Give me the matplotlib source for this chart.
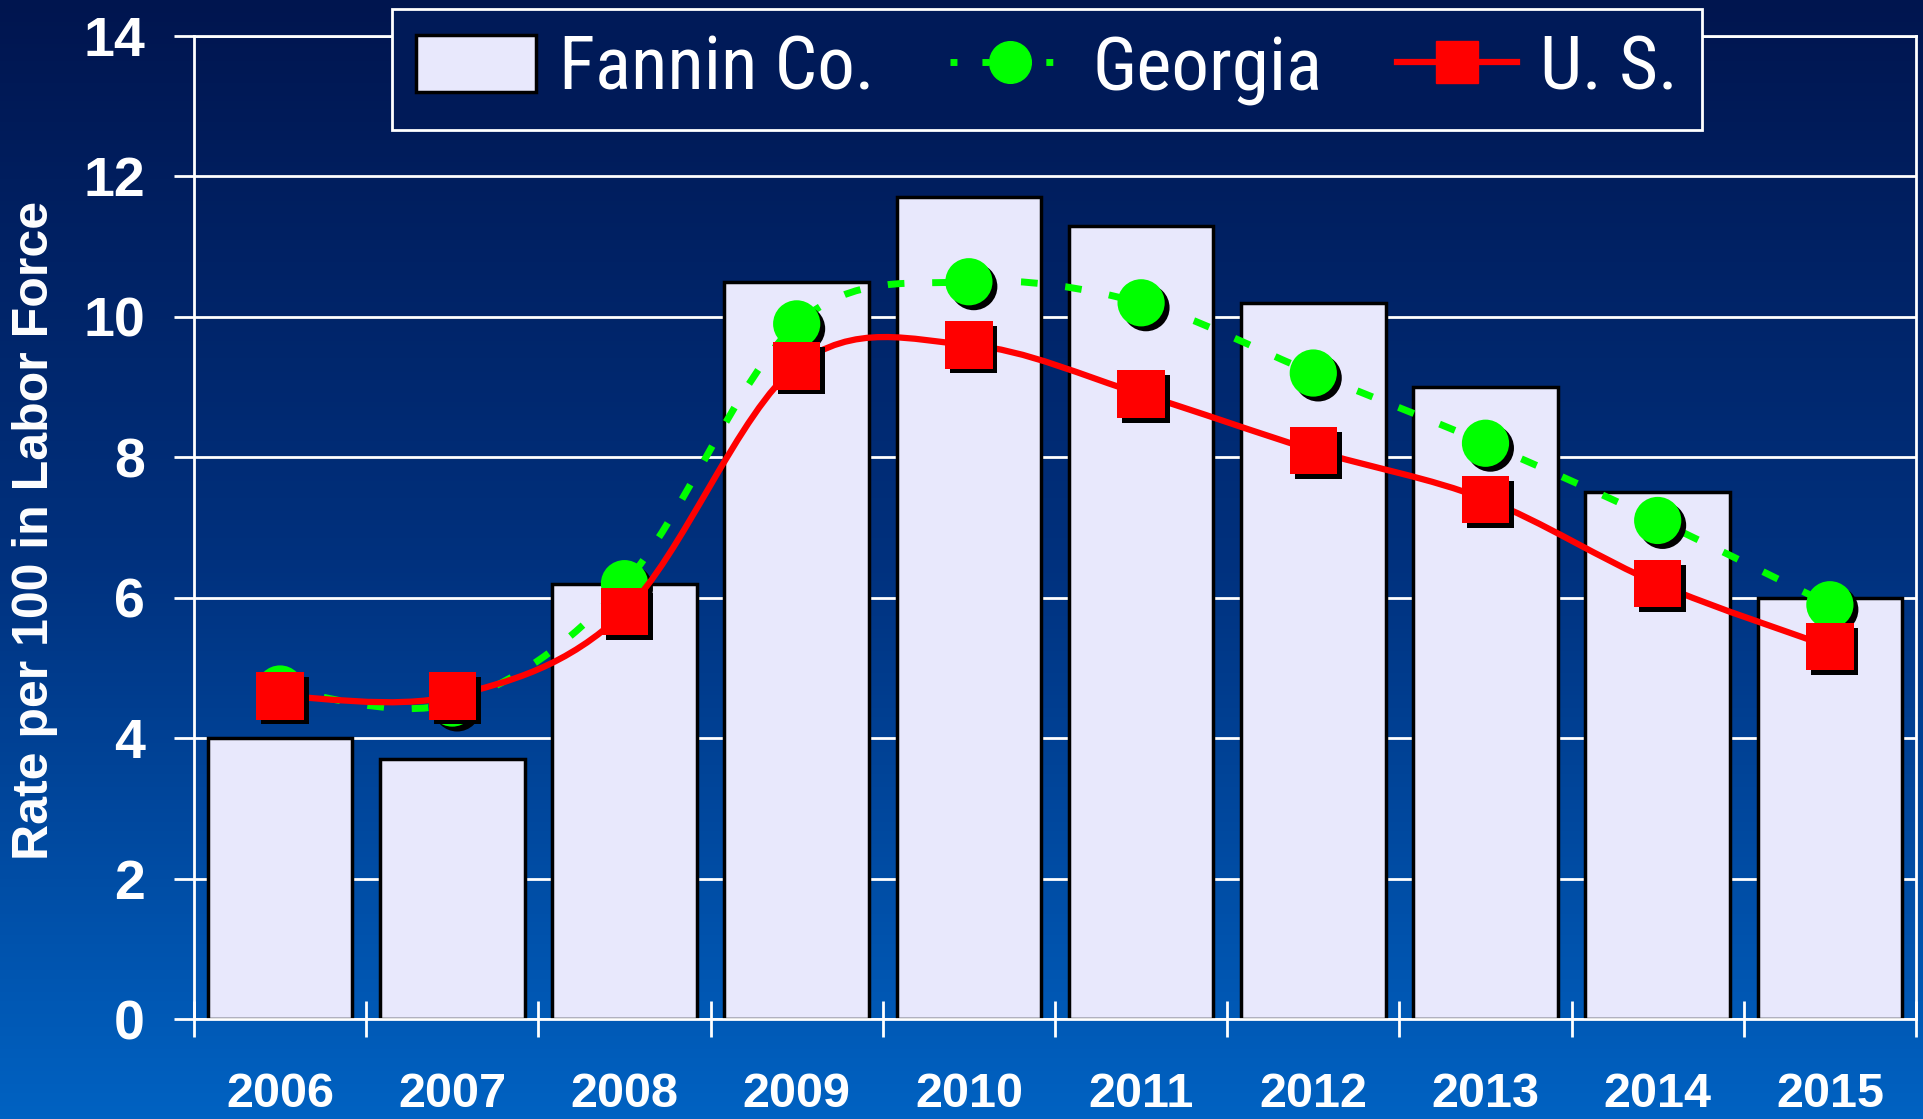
import matplotlib
matplotlib.use('Agg')
import matplotlib.pyplot as plt
import numpy as np
from matplotlib.colors import LinearSegmentedColormap
from matplotlib.path import Path
from matplotlib.patches import PathPatch, Patch
from matplotlib.lines import Line2D
import matplotlib.patheffects as pe

# unemployment rates
years = ['2006', '2007', '2008', '2009', '2010', '2011', '2012', '2013', '2014', '2015']
fannin = [4.0, 3.7, 6.2, 10.5, 11.7, 11.3, 10.2, 9.0, 7.5, 6.0]
georgia = [4.7, 4.5, 6.2, 9.9, 10.5, 10.2, 9.2, 8.2, 7.1, 5.9]
us = [4.6, 4.6, 5.8, 9.3, 9.6, 8.9, 8.1, 7.4, 6.2, 5.3]

plt.rcParams['font.family'] = ['Liberation Sans', 'DejaVu Sans']
narrow = ['Roboto Condensed', 'Archivo Narrow', 'PT Sans Narrow', 'Liberation Sans', 'DejaVu Sans']


# smooth line through the points (like excel's smoothed line)
def smooth_path(xs, ys):
    n = len(xs)
    verts = [(xs[0], ys[0])]
    codes = [Path.MOVETO]
    for i in range(n - 1):
        a = i - 1 if i > 0 else i
        d = i + 2 if i + 2 < n else i + 1
        c1 = (xs[i] + (xs[i + 1] - xs[a]) / 6, ys[i] + (ys[i + 1] - ys[a]) / 6)
        c2 = (xs[i + 1] - (xs[d] - xs[i]) / 6, ys[i + 1] - (ys[d] - ys[i]) / 6)
        verts += [c1, c2, (xs[i + 1], ys[i + 1])]
        codes += [Path.CURVE4] * 3
    return Path(verts, codes)


fig = plt.figure(figsize=(19.23, 11.19), dpi=100)

# gradient background
bg = fig.add_axes([0, 0, 1, 1], zorder=-10)
cmap = LinearSegmentedColormap.from_list('bg', ['#0062c2', '#00317e', '#00154f'])
bg.imshow(np.linspace(0, 1, 256).reshape(-1, 1), cmap=cmap, aspect='auto',
          extent=[0, 1, 0, 1], origin='lower')
bg.axis('off')

ax = fig.add_axes([194 / 1923, 1 - 1019 / 1119, (1916 - 194) / 1923, (1019 - 36) / 1119])
ax.set_facecolor('none')

x = np.arange(len(years))

ax.bar(x, fannin, width=0.84, color='#e8e8fc', edgecolor='black', linewidth=2.5, zorder=2)

ln_g = smooth_path(x, georgia)
ax.add_patch(PathPatch(ln_g, fill=False, edgecolor='#00ff00', linewidth=5,
                       linestyle=(0, (2.4, 4.0)), capstyle='butt', zorder=3))
ax.plot(x, georgia, linestyle='none', marker='o', markersize=34, color='#00ff00',
        markeredgewidth=0, zorder=4,
        path_effects=[pe.SimplePatchShadow(offset=(3.5, -3.5), shadow_rgbFace='black', alpha=1),
                      pe.Normal()])

ln_u = smooth_path(x, us)
ax.add_patch(PathPatch(ln_u, fill=False, edgecolor='#ff0000', linewidth=4.5, zorder=5))
ax.plot(x, us, linestyle='none', marker='s', markersize=34, color='#ff0000',
        markeredgewidth=0, zorder=6,
        path_effects=[pe.SimplePatchShadow(offset=(3.5, -3.5), shadow_rgbFace='black', alpha=1),
                      pe.Normal()])

ax.set_xlim(-0.5, len(years) - 0.5)
ax.set_ylim(0, 14)
ax.set_yticks(range(0, 15, 2))
ax.set_xticks(x)
ax.set_xticklabels(years)
ax.set_xticks(np.arange(-0.5, len(years)), minor=True)

ax.grid(axis='y', color='white', linewidth=2)
ax.set_axisbelow(True)
for s in ax.spines.values():
    s.set_color('white')
    s.set_linewidth(2)

ax.tick_params(axis='y', colors='white', direction='out', length=14.4, width=2, pad=21,
               labelsize=40)
ax.tick_params(axis='x', which='major', length=0, pad=38, colors='white', labelsize=35)
ax.tick_params(axis='x', which='minor', direction='inout', length=26, width=2, color='white')
for lab in ax.get_xticklabels() + ax.get_yticklabels():
    lab.set_fontweight('bold')

fig.text(35 / 1923, 1 - 530 / 1119, 'Rate per 100 in Labor Force', rotation=90,
         ha='center', va='center', color='white', fontsize=36, fontweight='bold')

handles = [Patch(facecolor='#e8e8fc', edgecolor='black', linewidth=2.5),
           Line2D([], [], color='#00ff00', linestyle=(0, (1.0, 3.6)), linewidth=5,
                  marker='o', markersize=30),
           Line2D([], [], color='#ff0000', linewidth=4.5, marker='s', markersize=30)]
leg = fig.legend(handles, ['Fannin Co.', 'Georgia', 'U. S.'], loc='upper center',
                 bbox_to_anchor=(0.5444, 0.992), ncol=3, frameon=True, fancybox=False,
                 facecolor='#001a58', edgecolor='white', framealpha=1,
                 prop={'family': narrow, 'size': 54}, handlelength=1.6, handleheight=0.8,
                 handletextpad=0.3, columnspacing=1.0, borderpad=0.33, borderaxespad=0)
leg.get_frame().set_linewidth(2)
for t in leg.get_texts():
    t.set_color('white')

fig.savefig('out.png', dpi=100)
